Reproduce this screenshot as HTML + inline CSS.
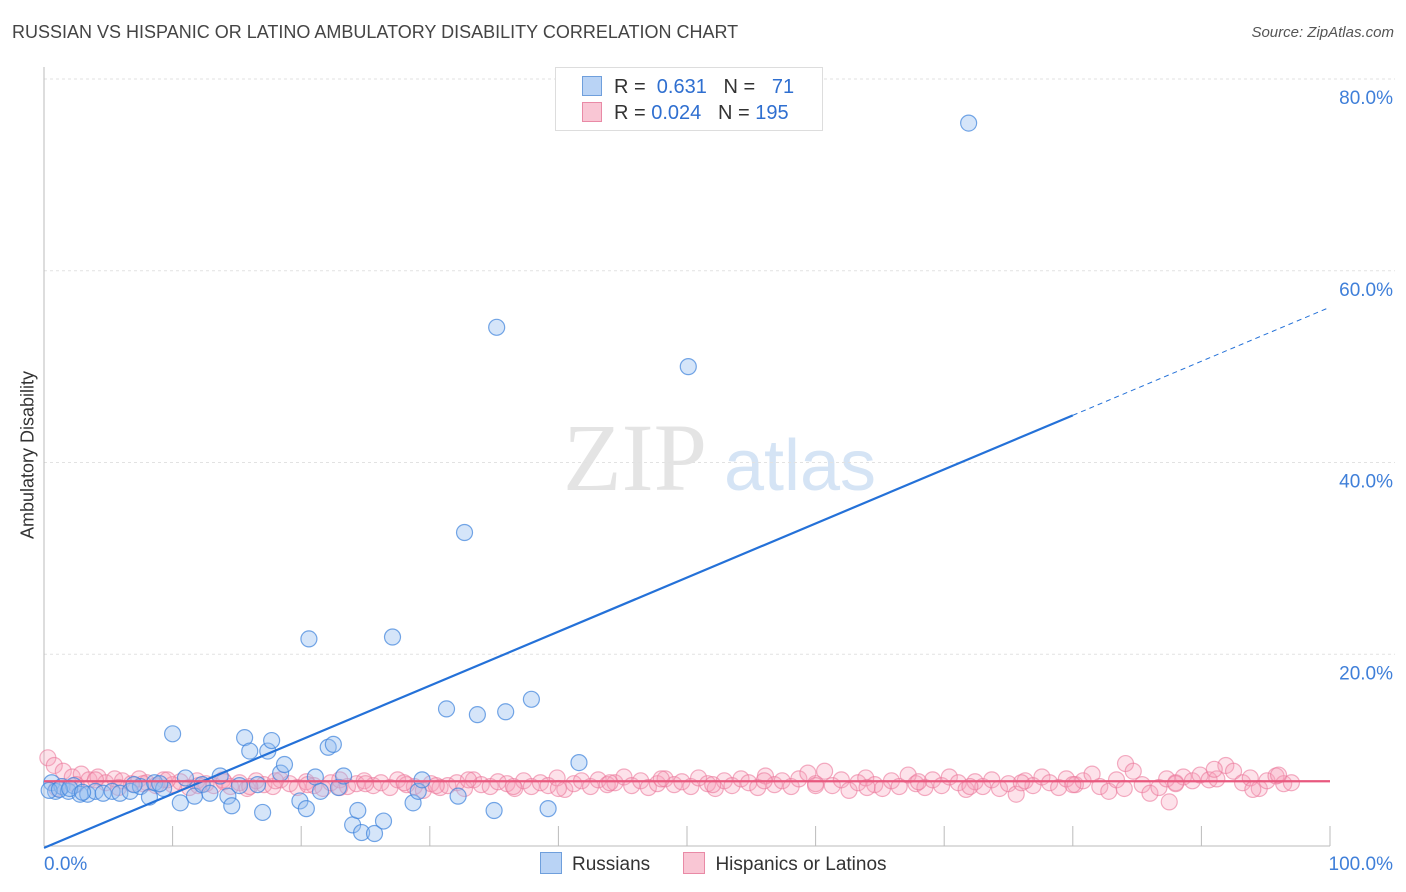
<!DOCTYPE html>
<html><head><meta charset="utf-8"><style>
body{margin:0;background:#fff;font-family:"Liberation Sans",sans-serif;}
#wrap{position:relative;width:1406px;height:892px;overflow:hidden;}
</style></head><body>
<div id="wrap">
<svg id="chart" width="1406" height="892"></svg>
</div>
<script>
const yTicks=[20,40,60,80];
const yTickLabels=["20.0%","40.0%","60.0%","80.0%"];
const xTicks=[10,20,30,40,50,60,70,80,90,100];
const xTickLabels=["0.0%","100.0%"];
const russX=[0.6,0.9,1.4,1.9,2.3,2.8,3.4,4.0,4.6,5.3,5.9,6.7,7.5,8.2,8.6,9.3,10.0,10.6,11.0,11.7,12.3,12.9,13.7,14.3,14.6,15.2,15.6,16.0,16.6,17.0,17.4,17.7,18.4,18.7,19.9,20.4,20.6,21.1,21.5,22.1,22.5,22.9,23.3,24.0,24.4,24.7,25.7,26.4,27.1,28.7,29.1,29.4,31.3,32.2,32.7,33.7,35.0,35.2,35.9,37.9,39.2,41.6,50.1,71.9,0.4,1.2,2.0,3.0,7.0,9.0];
const russY=[6.6,5.7,6.2,5.7,6.3,5.4,5.4,5.7,5.5,5.7,5.5,5.7,6.2,5.1,6.6,6.0,11.7,4.5,7.1,5.2,6.4,5.5,7.3,5.2,4.2,6.3,11.3,9.9,6.4,3.5,9.9,11.0,7.6,8.5,4.7,3.9,21.6,7.2,5.7,10.3,10.6,6.1,7.3,2.2,3.7,1.4,1.3,2.6,21.8,4.5,5.7,6.9,14.3,5.2,32.7,13.7,3.7,54.1,14.0,15.3,3.9,8.7,50.0,75.4,5.8,5.9,6.0,5.6,6.4,6.5];
const hispX=[0.3,0.8,1.5,2.2,2.9,3.5,4.2,4.8,5.5,6.1,6.8,7.4,8.0,8.7,9.3,10.0,10.6,11.3,11.9,12.6,13.2,13.9,14.5,15.2,15.8,16.5,17.1,17.8,18.4,19.1,19.7,20.4,21.0,21.7,22.3,23.0,23.6,24.3,24.9,25.6,26.2,26.9,27.5,28.2,28.8,29.5,30.1,30.8,31.4,32.1,32.7,33.4,34.0,34.7,35.3,36.0,36.6,37.3,37.9,38.6,39.2,39.9,40.5,41.2,41.8,42.5,43.1,43.8,44.4,45.1,45.7,46.4,47.0,47.7,48.3,49.0,49.6,50.3,50.9,51.6,52.2,52.9,53.5,54.2,54.8,55.5,56.1,56.8,57.4,58.1,58.7,59.4,60.0,60.7,61.3,62.0,62.6,63.3,63.9,64.6,65.2,65.9,66.5,67.2,67.8,68.5,69.1,69.8,70.4,71.1,71.7,72.4,73.0,73.7,74.3,75.0,75.6,76.3,76.9,77.6,78.2,78.9,79.5,80.2,80.8,81.5,82.1,82.8,83.4,84.1,84.7,85.4,86.0,86.7,87.3,88.0,88.6,89.3,89.9,90.6,91.2,91.9,92.5,93.2,93.8,94.5,95.1,95.8,96.4,97.0,1.0,2.5,4.0,5.8,7.7,9.6,12.0,14.0,16.0,18.0,20.5,23.0,25.0,28.0,30.5,33.0,36.5,40.0,44.0,48.0,52.0,56.0,60.0,64.0,68.0,72.0,76.0,80.0,84.0,88.0,87.5,91.0,94.0,96.0];
const hispY=[9.2,8.4,7.8,7.2,7.5,6.9,7.2,6.6,7.0,6.8,6.5,7.0,6.6,6.3,6.9,6.4,6.7,6.1,6.8,6.5,6.3,6.9,6.2,6.6,6.0,6.8,6.4,6.2,6.9,6.5,6.1,6.7,6.3,6.0,6.6,6.9,6.2,6.5,6.8,6.3,6.6,6.1,6.9,6.4,6.2,5.8,6.5,6.1,6.3,6.6,6.0,6.9,6.4,6.2,6.7,6.5,6.0,6.8,6.2,6.6,6.3,7.1,5.9,6.5,6.8,6.2,6.9,6.4,6.6,7.2,6.3,6.8,6.1,6.5,7.0,6.4,6.7,6.2,7.1,6.5,6.0,6.8,6.3,7.0,6.6,6.1,7.3,6.4,6.8,6.2,7.0,7.6,6.5,7.8,6.3,6.9,5.8,6.6,7.1,6.4,6.0,6.8,6.2,7.4,6.5,6.1,6.9,6.3,7.2,6.6,5.9,6.7,6.2,6.9,6.0,6.5,5.4,6.8,6.3,7.2,6.6,6.1,7.0,6.4,6.8,7.5,6.2,5.7,6.9,8.6,7.8,6.4,5.5,6.1,7.0,6.6,7.2,6.8,7.4,6.9,7.0,8.4,7.8,6.6,7.1,6.0,6.8,7.3,6.5,6.6,6.0,6.4,6.9,6.1,6.5,6.9,6.3,6.7,6.2,6.8,6.4,6.1,6.5,6.6,6.3,6.9,6.2,6.0,6.6,7.0,6.4,6.8,6.3,6.1,6.7,6.2,6.6,6.4,6.0,6.5,4.6,8.0,5.9,7.4];
const russTrend=[-0.2,0.564];
const hispTrend=[6.75,0.0];

const L=44,R=1330,T=79,B=846;
const sx=v=>L+(R-L)*v/100;
const sy=v=>B-(B-T)*v/80;
const svg=document.getElementById('chart');
const NS='http://www.w3.org/2000/svg';
function mk(tag,attrs,parent){const e=document.createElementNS(NS,tag);for(const k in attrs)e.setAttribute(k,attrs[k]);(parent||svg).appendChild(e);return e;}

// watermark
let wm=mk('text',{x:635,y:490,'font-family':'Liberation Serif,serif','font-size':96,fill:'#e4e4e4','text-anchor':'middle'});wm.textContent='ZIP';


let wm2=mk('text',{x:800,y:490,'font-size':72,fill:'#d5e4f5','text-anchor':'middle'});wm2.textContent='atlas';



// gridlines
yTicks.forEach((t,i)=>{
 const g=mk('line',{x1:L,x2:1395,y1:sy(t),y2:sy(t),stroke:'#e2e2e2','stroke-dasharray':'3,3'});
 
 
 const tx=mk('text',{x:1393,y:sy(t)+25,'font-size':19,fill:'#3f7fd9','text-anchor':'end'});tx.textContent=yTickLabels[i];
 
 
});
// axes
let ax=mk('line',{x1:L,x2:L,y1:67,y2:846,stroke:'#bbb'});


let ax2=mk('line',{x1:L,x2:R,y1:846,y2:846,stroke:'#bbb'});


xTicks.forEach(t=>{const k=mk('line',{x1:sx(t),x2:sx(t),y1:826,y2:846,stroke:'#bbb'});
 
 });
let xl0=mk('text',{x:44,y:870,'font-size':19,fill:'#3f7fd9'});xl0.textContent=xTickLabels[0];


let xl1=mk('text',{x:1393,y:870,'font-size':19,fill:'#3f7fd9','text-anchor':'end'});xl1.textContent=xTickLabels[1];



// points
hispX.forEach((x,i)=>{const c=mk('circle',{cx:sx(x),cy:sy(hispY[i]),r:8,fill:'rgba(248,160,185,0.3)',stroke:'rgba(235,120,155,0.6)','stroke-width':1.2});
 
 });
russX.forEach((x,i)=>{const c=mk('circle',{cx:sx(x),cy:sy(russY[i]),r:8,fill:'rgba(150,190,240,0.4)',stroke:'rgba(60,130,220,0.7)','stroke-width':1.2});
 
 });

// trend lines
const f=(tr,x)=>tr[0]+tr[1]*x;
let rl=mk('line',{x1:sx(0),y1:sy(f(russTrend,0)),x2:sx(80),y2:sy(f(russTrend,80)),stroke:'#2471d8','stroke-width':2.2});


let rd=mk('line',{x1:sx(80),y1:sy(f(russTrend,80)),x2:sx(100),y2:sy(f(russTrend,100)),stroke:'#2471d8','stroke-width':1,'stroke-dasharray':'5,4'});


let hl=mk('line',{x1:sx(0),y1:sy(f(hispTrend,0)),x2:sx(100),y2:sy(f(hispTrend,100)),stroke:'#e8587e','stroke-width':2.2});


</script>
<div style="position:absolute;left:12px;top:22px;font-size:18px;color:#444;">RUSSIAN VS HISPANIC OR LATINO AMBULATORY DISABILITY CORRELATION CHART</div>
<div style="position:absolute;right:12px;top:24px;font-size:15px;color:#555;font-style:italic;">Source: ZipAtlas.com</div>
<div style="position:absolute;left:28px;top:455px;transform:translate(-50%,-50%) rotate(-90deg);font-size:18px;color:#333;white-space:nowrap;">Ambulatory Disability</div>
<div style="position:absolute;left:555px;top:67px;width:266px;height:62px;border:1px solid #ddd;background:#fff;font-size:20px;color:#333;">
 <div style="position:absolute;left:26px;top:8px;white-space:pre;"><span style="display:inline-block;width:18px;height:18px;background:#b9d3f5;border:1px solid #6f9fdc;vertical-align:-3px;margin-right:12px;"></span>R =  <span style="color:#2f6fd0">0.631</span>   N =   <span style="color:#2f6fd0">71</span></div>
 <div style="position:absolute;left:26px;top:34px;white-space:pre;"><span style="display:inline-block;width:18px;height:18px;background:#f9c6d4;border:1px solid #e98aa6;vertical-align:-3px;margin-right:12px;"></span>R = <span style="color:#2f6fd0">0.024</span>   N = <span style="color:#2f6fd0">195</span></div>
</div>
<div style="position:absolute;left:540px;top:852px;font-size:19px;color:#333;white-space:nowrap;">
 <span><span style="display:inline-block;width:20px;height:20px;background:#b9d3f5;border:1px solid #6f9fdc;vertical-align:-4px;margin-right:10px;"></span>Russians</span>
 <span style="margin-left:28px;"><span style="display:inline-block;width:20px;height:20px;background:#f9c6d4;border:1px solid #e98aa6;vertical-align:-4px;margin-right:10px;"></span>Hispanics or Latinos</span>
</div>
</body></html>
